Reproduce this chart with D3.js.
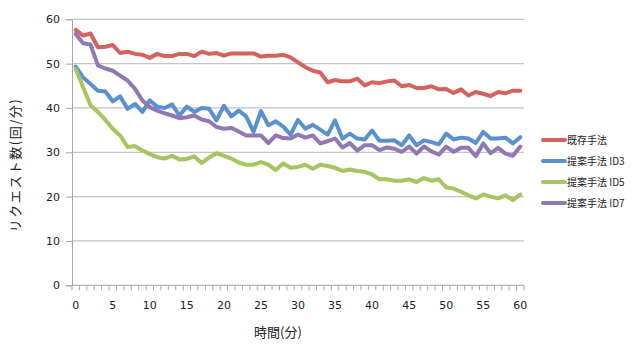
<!DOCTYPE html>
<html><head><meta charset="utf-8">
<script src="https://cdn.jsdelivr.net/npm/d3@7"></script>
<style>body{margin:0;background:#fff}svg{display:block}</style>
</head><body>
<svg id="c" width="636" height="347"></svg>
<script>
const minutes = d3.range(0, 61);
const seriesNames = ["既存手法", "提案手法 ID3", "提案手法 ID5", "提案手法 ID7"];
const existing = [57.6,56.3,56.8,53.7,53.8,54.2,52.4,52.7,52.2,52.0,51.3,52.2,51.7,51.7,52.2,52.2,51.7,52.7,52.2,52.4,51.8,52.3,52.3,52.3,52.3,51.6,51.8,51.8,52.0,51.4,50.3,49.2,48.4,48.0,45.8,46.3,46.0,46.0,46.6,45.1,45.8,45.6,46.0,46.2,44.9,45.2,44.5,44.5,44.9,44.2,44.3,43.4,44.2,42.8,43.6,43.2,42.7,43.6,43.3,43.9,43.9];
const id3 = [49.3,46.9,45.4,43.9,43.7,41.5,42.6,39.8,40.9,39.1,41.7,40.3,40.0,40.8,38.3,40.3,39.1,40.0,39.8,37.2,40.5,38.1,39.4,38.1,34.6,39.3,36.1,37.0,35.8,34.0,37.3,35.3,36.2,35.1,34.0,37.2,33.1,34.2,33.1,32.9,34.9,32.6,32.6,32.7,31.6,33.8,31.6,32.7,32.3,31.8,34.2,32.9,33.3,33.1,32.1,34.6,33.1,33.1,33.3,32.0,33.4];
const id5 = [48.8,44.7,40.6,39.1,37.3,35.3,33.8,31.2,31.4,30.4,29.6,28.9,28.6,29.2,28.4,28.5,29.1,27.6,28.8,29.8,29.2,28.6,27.7,27.2,27.2,27.8,27.2,26.0,27.5,26.5,26.7,27.2,26.3,27.2,26.9,26.5,25.8,26.1,25.8,25.6,25.0,23.9,23.9,23.6,23.6,23.9,23.3,24.2,23.6,23.9,22.1,21.8,21.1,20.3,19.6,20.5,20.0,19.6,20.3,19.2,20.5];
const id7 = [56.7,54.6,54.3,49.6,48.9,48.4,47.3,46.2,44.3,41.7,40.2,39.4,38.8,38.3,37.7,37.9,38.3,37.4,37.0,35.7,35.3,35.5,34.7,33.8,33.8,33.8,32.1,33.8,33.2,33.1,34.0,33.3,33.8,32.0,32.5,33.1,31.1,32.1,30.4,31.6,31.6,30.5,31.1,30.8,30.1,31.3,29.7,31.3,30.2,29.5,31.3,30.1,31.0,31.0,29.1,32.0,29.8,31.0,29.7,29.2,31.3];
const yTicks = [0,10,20,30,40,50,60];
const xLabels = [0,5,10,15,20,25,30,35,40,45,50,55,60];
const colors = ["#d6625d", "#5890d2", "#a5c55f", "#9177b4"];
const allSeries = [existing, id3, id5, id7];

const svg = d3.select("#c");
const x = d3.scaleBand().domain(minutes).range([72, 524]).padding(0);
const y = d3.scaleLinear().domain([0, 60]).range([285.3, 19.3]);
const cx = d => x(d) + x.bandwidth() / 2;

// gridlines
svg.append("g").selectAll("line").data(yTicks.filter(v => v > 0)).join("line")
  .attr("x1", 72).attr("x2", 524)
  .attr("y1", d => y(d)).attr("y2", d => y(d))
  .attr("stroke", "#c4c4c4").attr("stroke-width", 1.3);

// y axis
const ya = svg.append("g").attr("transform", "translate(72,0)")
  .call(d3.axisLeft(y).tickValues(yTicks).tickSize(6).tickPadding(6));
ya.select(".domain").attr("stroke", "#a6a6a6");
ya.selectAll(".tick line").attr("stroke", "#a6a6a6");
ya.selectAll("text").attr("font-family", "DejaVu Sans, sans-serif").attr("font-size", 11).attr("fill", "#222");

// x axis line
svg.append("line").attr("x1", 72).attr("x2", 524).attr("y1", y(0)).attr("y2", y(0)).attr("stroke", "#a6a6a6");
// x minor ticks at category boundaries
const bounds = minutes.map(d => x(d)).concat([x(60) + x.bandwidth()]);
svg.append("g").selectAll("line").data(bounds).join("line")
  .attr("x1", d => d).attr("x2", d => d)
  .attr("y1", y(0)).attr("y2", y(0) + 5)
  .attr("stroke", "#a6a6a6");
// x labels
svg.append("g").selectAll("text").data(xLabels).join("text")
  .attr("x", d => cx(d)).attr("y", 309)
  .attr("text-anchor", "middle")
  .attr("font-family", "DejaVu Sans, sans-serif").attr("font-size", 11).attr("fill", "#222")
  .text(d => d);

// lines
const line = d3.line().x((d, i) => cx(minutes[i])).y(d => y(d)).curve(d3.curveLinear);
svg.append("g").selectAll("path").data(allSeries).join("path")
  .attr("d", d => line(d))
  .attr("fill", "none")
  .attr("stroke", (d, i) => colors[i])
  .attr("stroke-width", 4)
  .attr("stroke-linejoin", "round")
  .attr("stroke-linecap", "round");

// axis titles
svg.append("text").attr("x", 278).attr("y", 337).attr("text-anchor", "middle")
  .attr("font-family", "Noto Sans CJK JP, sans-serif").attr("font-size", 13).attr("fill", "#222")
  .text("時間(分)");
svg.append("text").attr("transform", "translate(20,165) rotate(-90)").attr("text-anchor", "middle")
  .attr("font-family", "Noto Sans CJK JP, sans-serif").attr("font-size", 13).attr("fill", "#222")
  .attr("letter-spacing", 1.5)
  .text("リクエスト数(回/分)");

// legend
const lg = svg.append("g").selectAll("g").data(seriesNames).join("g")
  .attr("transform", (d, i) => `translate(543,${140 + i * 21})`);
lg.append("line").attr("x1", 0).attr("x2", 22).attr("y1", 0).attr("y2", 0)
  .attr("stroke", (d, i) => colors[i]).attr("stroke-width", 4).attr("stroke-linecap", "round");
lg.append("text").attr("x", 24).attr("y", 4)
  .attr("font-family", "Noto Sans CJK JP, sans-serif").attr("font-size", 10).attr("fill", "#222")
  .text(d => d);
</script>
</body></html>
